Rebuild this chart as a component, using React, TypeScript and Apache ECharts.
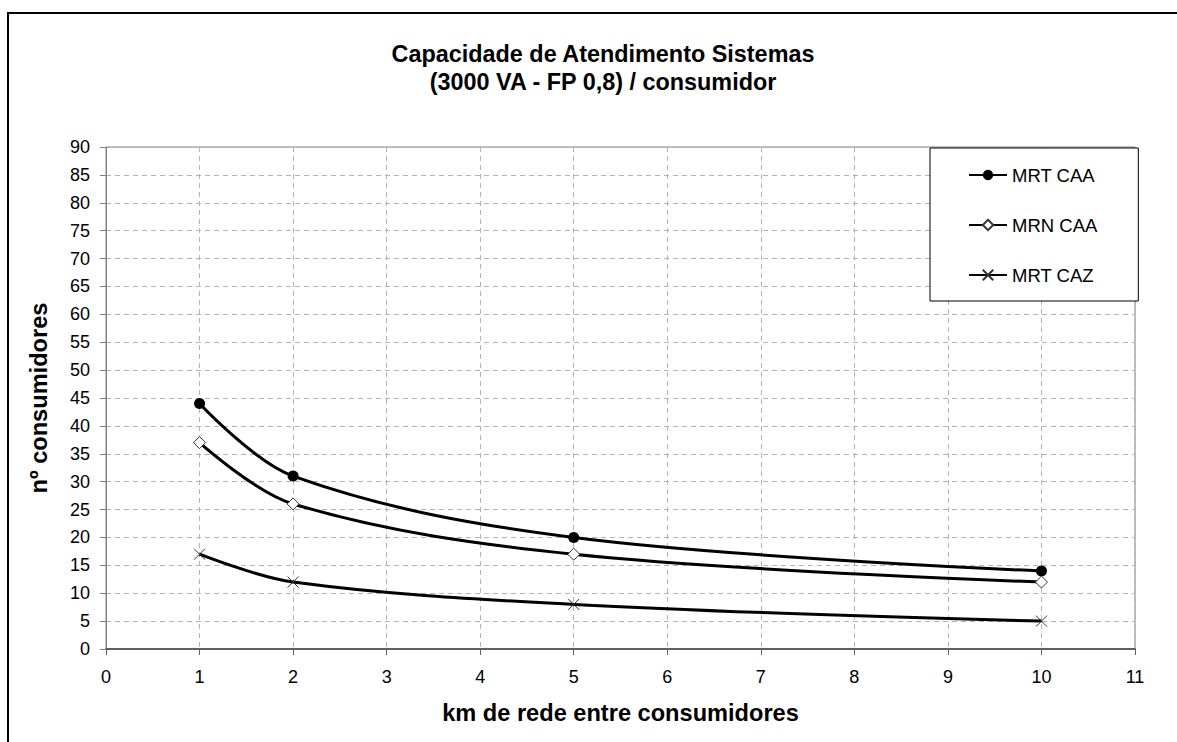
import React, { useEffect, useRef } from "react";
import * as echarts from "echarts";

const titleLines = ["Capacidade de Atendimento Sistemas", "(3000 VA - FP 0,8) / consumidor"];
const xAxisName = "km de rede entre consumidores";
const yAxisName = "nº consumidores";
const kmValues = [1, 2, 5, 10];
const seriesNames = ["MRT CAA", "MRN CAA", "MRT CAZ"];
const mrtCaa = [44, 31, 20, 14];
const mrnCaa = [37, 26, 17, 12];
const mrtCaz = [17, 12, 8, 5];

const FONT = "'Liberation Sans', Arial, sans-serif";

export default function App() {
  const ref = useRef<HTMLDivElement>(null);
  useEffect(() => {
    document.body.style.margin = "0";
    const chart = echarts.init(ref.current!, null, { renderer: "svg" });
    const pairs = (ys: number[]) => kmValues.map((x, i) => [x, ys[i]]);
    const lineStyle = { color: "#000", width: 3 };
    const SMOOTH = 0.35;
    chart.setOption({
      animation: false,
      backgroundColor: "#fff",
      textStyle: { fontFamily: FONT },
      title: {
        text: titleLines.join("\n"),
        left: 598,
        top: 35,
        textAlign: "center",
        textStyle: { fontFamily: FONT, fontSize: 23.4, fontWeight: "bold", color: "#000", lineHeight: 28 },
      },
      graphic: [
        {
          type: "rect",
          shape: { x: 8, y: 13, width: 1400, height: 900 },
          style: { fill: "none", stroke: "#000", lineWidth: 2 },
          z: 100,
        },
      ],
      legend: {
        orient: "vertical",
        left: 930,
        top: 148,
        padding: [17, 41, 16, 38],
        itemGap: 30,
        itemWidth: 38,
        itemHeight: 13,
        borderColor: "#000",
        borderWidth: 1,
        backgroundColor: "#fff",
        data: seriesNames,
        textStyle: { fontFamily: FONT, fontSize: 18.5, color: "#000", lineHeight: 20 },
      },
      grid: {
        left: 106,
        right: 42,
        top: 147,
        bottom: 93,
        show: true,
        borderColor: "#808080",
        borderWidth: 1,
      },
      xAxis: {
        type: "value",
        min: 0,
        max: 11,
        interval: 1,
        name: xAxisName,
        nameLocation: "middle",
        nameGap: 52,
        nameTextStyle: { fontFamily: FONT, fontSize: 23.6, fontWeight: "bold", color: "#000" },
        axisLine: { lineStyle: { color: "#606060", width: 2 } },
        axisTick: { show: true, length: 6, lineStyle: { color: "#606060" } },
        axisLabel: { margin: 19, fontFamily: FONT, fontSize: 18, color: "#000" },
        splitLine: { show: true, lineStyle: { color: "#b4b4b4", type: [5, 4], width: 1 } },
      },
      yAxis: {
        type: "value",
        min: 0,
        max: 90,
        interval: 5,
        name: yAxisName,
        nameLocation: "middle",
        nameGap: 55,
        nameTextStyle: { fontFamily: FONT, fontSize: 23.6, fontWeight: "bold", color: "#000" },
        axisLine: { show: true, lineStyle: { color: "#808080", width: 1 } },
        axisTick: { show: true, length: 6, lineStyle: { color: "#808080" } },
        axisLabel: { margin: 16, fontFamily: FONT, fontSize: 18, color: "#000" },
        splitLine: { show: true, lineStyle: { color: "#b4b4b4", type: [5, 4], width: 1 } },
      },
      series: [
        {
          name: seriesNames[0],
          type: "line",
          data: pairs(mrtCaa),
          smooth: SMOOTH,
          symbol: "circle",
          symbolSize: 11,
          itemStyle: { color: "#000" },
          lineStyle,
        },
        {
          name: seriesNames[1],
          type: "line",
          data: pairs(mrnCaa),
          smooth: SMOOTH,
          symbol: "diamond",
          symbolSize: 12,
          itemStyle: { color: "#fff", borderColor: "#333", borderWidth: 1 },
          lineStyle,
        },
        {
          name: seriesNames[2],
          type: "line",
          data: pairs(mrtCaz),
          smooth: SMOOTH,
          symbol: "path://M0,0L10,10M10,0L0,10",
          symbolSize: 11,
          itemStyle: { color: "none", borderColor: "#333", borderWidth: 1 },
          lineStyle,
        },
      ],
    });
    return () => chart.dispose();
  }, []);
  return <div ref={ref} style={{ width: 1177, height: 742 }} />;
}
